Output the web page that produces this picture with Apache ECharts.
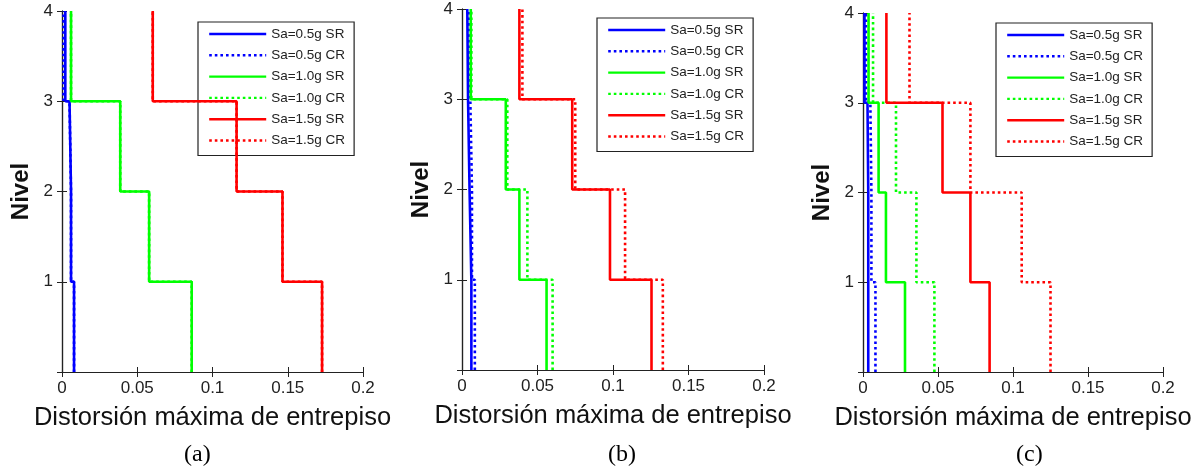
<!DOCTYPE html>
<html>
<head>
<meta charset="utf-8">
<script src="https://cdn.jsdelivr.net/npm/echarts@6/dist/echarts.min.js"></script>
<style>
html,body{margin:0;padding:0;background:#fff;}
#chart{width:1199px;height:470px;}
</style>
</head>
<body>
<div id="chart"></div>
<script>
// Story drift per story, bottom (story 1: level 0-1) to top (story 4: level 3-4)
const levels = [0, 1, 2, 3, 4];
const seriesNames = ['Sa=0.5g SR', 'Sa=0.5g CR', 'Sa=1.0g SR', 'Sa=1.0g CR', 'Sa=1.5g SR', 'Sa=1.5g CR'];
const panelLabels = ['(a)', '(b)', '(c)'];
const xTicks = [0, 0.05, 0.1, 0.15, 0.2];

// Panel (a)
const a_05SR = [0.008, 0.006, 0.005, 0.0022];
const a_05CR = [0.008, 0.006, 0.005, 0.0010];
const a_10SR = [0.0862, 0.0579, 0.0387, 0.0060];
const a_10CR = [0.0862, 0.0579, 0.0387, 0.0060];
const a_15SR = [0.1728, 0.1465, 0.116, 0.0603];
const a_15CR = [0.1728, 0.1465, 0.116, 0.0603];

// Panel (b)
const b_05SR = [0.0062, 0.0050, 0.0040, 0.0035];
const b_05CR = [0.0085, 0.0066, 0.0055, 0.0044];
const b_10SR = [0.056, 0.038, 0.029, 0.0058];
const b_10CR = [0.060, 0.0433, 0.030, 0.0062];
const b_15SR = [0.1255, 0.098, 0.073, 0.038];
const b_15CR = [0.133, 0.108, 0.075, 0.040];

// Panel (c)
const c_05SR = [0.0035, 0.0035, 0.0030, 0.0010];
const c_05CR = [0.0083, 0.0056, 0.0049, 0.0020];
const c_10SR = [0.028, 0.0153, 0.0104, 0.0037];
const c_10CR = [0.0476, 0.0356, 0.022, 0.0067];
const c_15SR = [0.0844, 0.0716, 0.053, 0.0156];
const c_15CR = [0.125, 0.1058, 0.0716, 0.031];

const panels = [
  [a_05SR, a_05CR, a_10SR, a_10CR, a_15SR, a_15CR],
  [b_05SR, b_05CR, b_10SR, b_10CR, b_15SR, b_15CR],
  [c_05SR, c_05CR, c_10SR, c_10CR, c_15SR, c_15CR]
];

const colors = ['#0000ff', '#0000ff', '#00ff00', '#00ff00', '#ff0000', '#ff0000'];
const dotted = [false, true, false, true, false, true];

const grids = [
  {left: 62, top: 11, width: 301, height: 361},
  {left: 462, top: 9, width: 302, height: 361},
  {left: 863, top: 13, width: 300, height: 359}
];
const legendPos = [
  {left: 198, top: 22},
  {left: 597, top: 18},
  {left: 996, top: 23}
];
const labelPos = [[198, 457], [622, 457], [1030, 457]];

const axisCol = '#222';
const sans = 'Liberation Sans, Arial, sans-serif';

function stepPoints(drifts) {
  const pts = [];
  for (let i = 0; i < drifts.length; i++) {
    pts.push([drifts[i], levels[i]]);
    pts.push([drifts[i], levels[i + 1]]);
  }
  return pts;
}

const xAxis = [], yAxis = [], series = [], legend = [], graphic = [];
panels.forEach((panel, p) => {
  xAxis.push({
    type: 'value', gridIndex: p, min: 0, max: 0.2, interval: 0.05, position: 'bottom',
    name: 'Distorsión máxima de entrepiso', nameLocation: 'middle', nameGap: 33,
    nameTextStyle: {fontFamily: sans, fontSize: 25.5, color: '#111'},
    axisLine: {show: true, lineStyle: {color: axisCol, width: 1.2}},
    axisTick: {show: true, inside: true, length: 5, lineStyle: {color: axisCol}},
    axisLabel: {fontFamily: sans, fontSize: 17, color: '#222', margin: 8,
      formatter: v => xTicks.includes(+v.toFixed(2)) ? String(+v.toFixed(2)) : ''},
    splitLine: {show: false}
  });
  xAxis.push({
    type: 'value', gridIndex: p, min: 0, max: 0.2, interval: 0.05, position: 'top',
    axisLine: {show: true, lineStyle: {color: axisCol, width: 1.2}},
    axisTick: {show: true, inside: true, length: 5, lineStyle: {color: axisCol}},
    axisLabel: {show: false}, splitLine: {show: false}
  });
  yAxis.push({
    type: 'value', gridIndex: p, min: 0, max: 4, interval: 1, position: 'left',
    name: 'Nivel', nameLocation: 'middle', nameGap: 29,
    nameTextStyle: {fontFamily: sans, fontSize: 24, fontWeight: 'bold', color: '#111'},
    axisLine: {show: true, lineStyle: {color: axisCol, width: 1.2}},
    axisTick: {show: true, inside: true, length: 5, lineStyle: {color: axisCol}},
    axisLabel: {fontFamily: sans, fontSize: 17, color: '#222', margin: 9,
      formatter: v => v === 0 ? '' : String(v)},
    splitLine: {show: false}
  });
  yAxis.push({
    type: 'value', gridIndex: p, min: 0, max: 4, interval: 1, position: 'right',
    axisLine: {show: true, lineStyle: {color: axisCol, width: 1.2}},
    axisTick: {show: true, inside: true, length: 5, lineStyle: {color: axisCol}},
    axisLabel: {show: false}, splitLine: {show: false}
  });
  panel.forEach((drifts, s) => {
    series.push({
      type: 'line', name: seriesNames[s], xAxisIndex: p * 2, yAxisIndex: p * 2,
      data: stepPoints(drifts), symbol: 'none', silent: true, animation: false,
      color: colors[s], z: 2 + s,
      lineStyle: {color: colors[s], width: 2.6, type: dotted[s] ? [2.6, 3] : 'solid', cap: 'butt'}
    });
  });
  legend.push({
    orient: 'vertical', left: legendPos[p].left, top: legendPos[p].top,
    data: seriesNames, itemWidth: 57, itemHeight: 14, itemGap: 7.3,
    padding: [5, 9, 8, 10], backgroundColor: '#fff',
    borderColor: '#222', borderWidth: 1.2, borderRadius: 0,
    selectedMode: false,
    textStyle: {fontFamily: sans, fontSize: 13.5, color: '#222'},
    itemStyle: {opacity: 0},
    lineStyle: {width: 2.4}
  });
  graphic.push({
    type: 'text', left: labelPos[p][0] - 14, top: labelPos[p][1] - 14,
    style: {text: panelLabels[p], font: '24px "Liberation Serif", "Times New Roman", serif', fill: '#000'}
  });
});

const chart = echarts.init(document.getElementById('chart'), null, {renderer: 'canvas'});
chart.setOption({
  animation: false,
  backgroundColor: '#fff',
  grid: grids.map(g => Object.assign({containLabel: false}, g)),
  xAxis, yAxis, series, legend, graphic
});
</script>
</body>
</html>
